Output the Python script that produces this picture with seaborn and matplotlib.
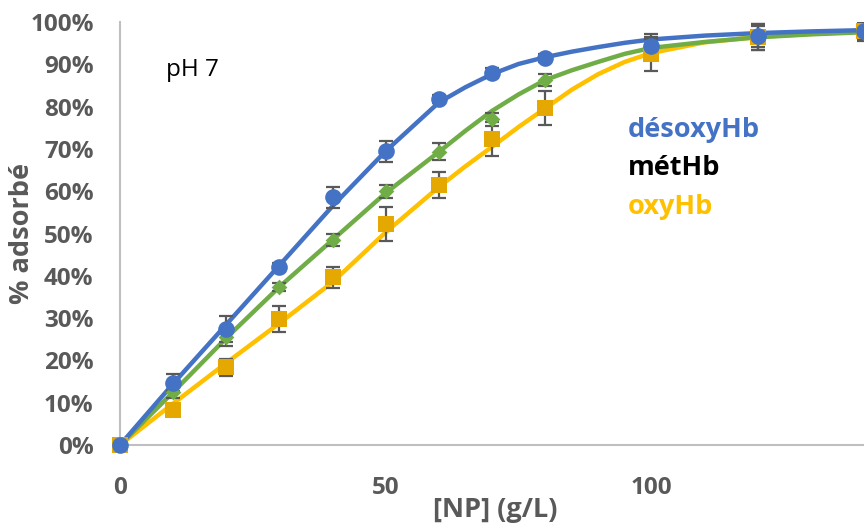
import numpy as np
import pandas as pd
import seaborn as sns
import matplotlib.pyplot as plt

# Données mesurées (% adsorbé) en fonction de [NP] (g/L)
np_conc = [0, 10, 20, 30, 40, 50, 60, 70, 80, 100, 120, 140]
desoxy = [0, 14.7, 27.4, 42.1, 58.6, 69.5, 81.8, 88.0, 91.5, 94.3, 96.6, 97.9]
desoxy_err = [0, 2.0, 3.0, 1.0, 2.5, 2.5, 1.0, 1.2, 1.0, 3.0, 2.5, 2.0]
met = [0, 12.5, 25.5, 37.4, 48.5, 60.0, 69.3, 77.0, 86.3, 94.0, 96.5, 97.5]
met_err = [0, 1.5, 2.0, 1.0, 1.5, 1.5, 2.0, 1.5, 1.5, 2.0, 3.0, 2.0]
oxy = [0, 8.3, 18.4, 29.8, 39.7, 52.2, 61.5, 72.3, 79.6, 92.4, 96.5, 98.0]
oxy_err = [0, 1.0, 2.0, 3.0, 2.5, 4.0, 3.0, 4.0, 4.0, 4.0, 3.0, 2.0]

# Courbes d'ajustement
fit_x = [0, 10, 20, 30, 40, 50, 60, 65, 70, 75, 80, 85, 90, 95, 100, 110, 120, 130, 140]
fit_desoxy = [0, 14.5, 28.5, 42.5, 56.5, 69.5, 81.0, 84.6, 87.7, 90.1, 91.7, 93.0, 94.1, 95.1, 95.9,
              96.8, 97.4, 97.8, 98.1]
fit_met = [0, 12.5, 25.3, 37.4, 48.5, 59.6, 69.3, 74.3, 79.0, 82.9, 86.3, 88.6, 90.6, 92.5, 93.9,
           95.3, 96.4, 97.1, 97.6]
fit_oxy = [0, 9.8, 19.4, 28.8, 38.5, 50.3, 61.0, 65.9, 70.5, 75.2, 79.6, 84.0, 87.7, 90.6, 92.7,
           95.2, 96.5, 97.2, 97.8]

series = [
    ("oxyHb", oxy, oxy_err, fit_oxy, "#FFC000", "#E5A800", "s", 11),
    ("métHb", met, met_err, fit_met, "#70AD47", "#70AD47", "D", 8),
    ("désoxyHb", desoxy, desoxy_err, fit_desoxy, "#4472C4", "#4472C4", "o", 12),
]

sns.set_style("white")
plt.rcParams["font.family"] = ["Open Sans", "DejaVu Sans"]

fig = plt.figure(figsize=(8.64, 5.26), dpi=100)
ax = fig.add_axes([0.1389, 0.154, 0.8611, 0.804])

gray = "#595959"
for name, vals, errs, fit, lc, mc, mk, ms in series:
    fit_df = pd.DataFrame({"x": fit_x, "y": fit})
    sns.lineplot(data=fit_df, x="x", y="y", ax=ax, color=lc, lw=3.2, zorder=2)
    ax.errorbar(np_conc, vals, yerr=errs, fmt="none", ecolor=gray, elinewidth=1.6,
                capsize=5, capthick=1.6, zorder=3)
    pts = pd.DataFrame({"x": np_conc, "y": vals})
    sns.scatterplot(data=pts, x="x", y="y", ax=ax, color=mc, marker=mk, s=ms ** 2,
                    edgecolor=mc, linewidth=0, zorder=4, clip_on=False)

ax.set_xlim(0, 140)
ax.set_ylim(0, 100)
ax.set_xticks([0, 50, 100])
ax.set_yticks(range(0, 101, 10))
ax.set_yticklabels([f"{v}%" for v in range(0, 101, 10)])

for side in ["top", "right"]:
    ax.spines[side].set_visible(False)
for side in ["left", "bottom"]:
    ax.spines[side].set_color("#BFBFBF")
    ax.spines[side].set_linewidth(1.5)

ax.tick_params(axis="both", direction="in", length=7, width=1.5, color="#BFBFBF",
               labelsize=17.5, labelcolor=gray)
ax.tick_params(axis="x", pad=22)
ax.tick_params(axis="y", pad=19)
for lbl in ax.get_xticklabels() + ax.get_yticklabels():
    lbl.set_fontweight("bold")

ax.set_xlabel("[NP] (g/L)", fontsize=19.5, fontweight="bold", color=gray, va="center")
ax.set_ylabel("% adsorbé", fontsize=19.5, fontweight="bold", color=gray, va="center")
ax.xaxis.set_label_coords(0.505, -0.154)
ax.yaxis.set_label_coords(-0.132, 0.5)

ax.text(0.062, 0.887, "pH 7", transform=ax.transAxes, fontsize=17.5, color="black",
        va="center", ha="left")
ax.text(0.683, 0.745, "désoxyHb", transform=ax.transAxes, fontsize=19.5, fontweight="bold",
        color="#4472C4", va="center", ha="left")
ax.text(0.683, 0.655, "métHb", transform=ax.transAxes, fontsize=19.5, fontweight="bold",
        color="black", va="center", ha="left")
ax.text(0.683, 0.563, "oxyHb", transform=ax.transAxes, fontsize=19.5, fontweight="bold",
        color="#FFC000", va="center", ha="left")

fig.savefig("out.png", dpi=100)
